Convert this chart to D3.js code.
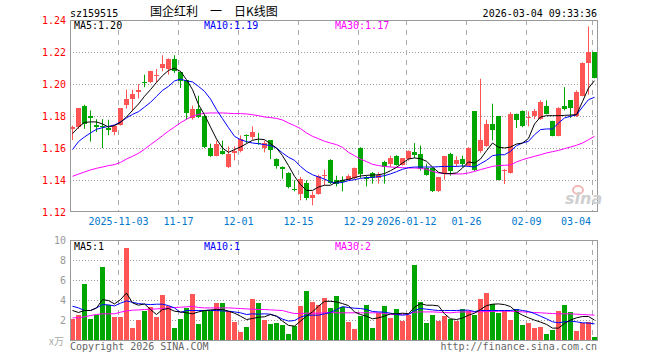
<!DOCTYPE html>
<html>
<head>
<meta charset="utf-8">
<script src="https://cdn.jsdelivr.net/npm/d3@7"></script>
<style>
  body { margin: 0; background: #fff; }
  svg { display: block; }
  text { font-family: "DejaVu Sans Mono", monospace; font-size: 10px; }
</style>
</head>
<body>
<svg id="chart"></svg>
<script>
// daily candles, 2025-10-22 .. 2026-03-04 (88 trading days)
const opens = [1.172,1.173,1.1865,1.18,1.1746,1.1735,1.1722,1.17,1.1745,1.1867,1.1908,1.1948,1.2013,1.201,1.2048,1.2098,1.2096,1.2158,1.2077,1.2023,1.1788,1.1844,
  1.18,1.16,1.1552,1.1583,1.1481,1.1569,1.1579,1.1683,1.1667,1.1629,1.16,1.1648,1.1533,1.1483,1.1446,1.1346,1.1315,1.1381,1.1285,1.1315,1.1429,1.1527,
  1.14,1.14,1.1402,1.1415,1.1602,1.1419,1.1446,1.1415,1.1515,1.1502,1.1552,1.1496,1.1531,1.1577,1.1565,1.1475,1.1475,1.1333,1.144,1.1565,1.1502,1.1533,
  1.149,1.1829,1.1579,1.1615,1.1752,1.18,1.1454,1.1444,1.1813,1.1833,1.179,1.1798,1.1781,1.1865,1.1767,1.1677,1.1865,1.1898,1.1798,1.1927,1.2131,1.2198];
const highs = [1.174,1.185,1.187,1.1835,1.178,1.178,1.1777,1.1745,1.185,1.1965,1.1965,1.2,1.2058,1.2083,1.2094,1.218,1.216,1.218,1.208,1.2025,1.1865,1.1927,
  1.1805,1.1627,1.1646,1.1646,1.161,1.161,1.1679,1.1685,1.1735,1.1694,1.1646,1.165,1.1535,1.1485,1.1448,1.1398,1.1419,1.1398,1.1329,1.1433,1.1465,1.153,
  1.1427,1.1423,1.1435,1.1478,1.1605,1.1427,1.145,1.1448,1.152,1.1552,1.1555,1.1535,1.1585,1.1631,1.1615,1.1502,1.1475,1.142,1.155,1.157,1.1548,1.1552,
  1.1605,1.183,1.2033,1.1777,1.1877,1.18,1.1469,1.1825,1.1815,1.1835,1.1829,1.1844,1.1898,1.1898,1.177,1.1855,1.1981,1.19,1.196,1.2135,1.236,1.22];
const lows = [1.165,1.172,1.172,1.164,1.17,1.16,1.168,1.168,1.174,1.1846,1.183,1.191,1.198,1.2005,1.201,1.208,1.2058,1.207,1.1975,1.1777,1.1777,1.1788,
  1.16,1.1544,1.1548,1.1558,1.1475,1.1523,1.1573,1.163,1.1652,1.162,1.1573,1.1531,1.1471,1.1408,1.1348,1.1329,1.1273,1.1273,1.1242,1.1308,1.1367,1.1375,
  1.136,1.1329,1.14,1.1406,1.1413,1.136,1.1377,1.1377,1.1377,1.1481,1.149,1.149,1.1521,1.1537,1.1458,1.1427,1.1325,1.1325,1.1402,1.1427,1.1481,1.1481,
  1.1488,1.1454,1.157,1.1606,1.1648,1.1398,1.1375,1.144,1.1725,1.173,1.1735,1.1781,1.1777,1.181,1.1673,1.1673,1.1835,1.1788,1.1794,1.1923,1.1933,1.2035];
const closes = [1.173,1.185,1.175,1.179,1.173,1.173,1.1715,1.174,1.185,1.1908,1.1938,1.1965,1.2008,1.2083,1.2058,1.2127,1.2158,1.2083,1.202,1.182,1.1844,1.1794,
  1.1604,1.1552,1.1625,1.1565,1.1565,1.1583,1.1656,1.1677,1.1698,1.1625,1.1631,1.1585,1.1485,1.1469,1.1354,1.1335,1.1406,1.1285,1.1304,1.1427,1.1433,1.1381,
  1.1377,1.1385,1.1427,1.1477,1.1435,1.1408,1.141,1.1433,1.1481,1.1535,1.1496,1.1535,1.1581,1.1554,1.1469,1.1433,1.1333,1.1417,1.1548,1.1454,1.1527,1.15,
  1.16,1.146,1.1652,1.1752,1.1715,1.14,1.1462,1.1815,1.1777,1.1735,1.1794,1.1829,1.1885,1.1815,1.1677,1.185,1.1844,1.185,1.1948,1.2131,1.2198,1.2037];

const ma5 = [1.169,1.173,1.176,1.1763,1.1763,1.175,1.1731,1.174,1.176,1.1794,1.1835,1.1875,1.1923,1.1965,1.201,1.2052,1.2085,1.2098,1.2079,1.2027,1.1965,1.1871,
  1.1808,1.1731,1.1656,1.16,1.1573,1.159,1.1606,1.1627,1.1648,1.1656,1.1652,1.1627,1.16,1.1552,1.149,1.1423,1.1371,1.1335,1.1335,1.1356,1.1367,1.1367,
  1.1388,1.1398,1.1404,1.1415,1.1425,1.1429,1.1431,1.1433,1.144,1.1458,1.1479,1.1506,1.1531,1.1538,1.1533,1.1517,1.1481,1.1448,1.144,1.144,1.1444,1.1475,
  1.1513,1.1506,1.1531,1.1583,1.1631,1.1605,1.16,1.1606,1.1625,1.1631,1.166,1.175,1.1794,1.1802,1.1802,1.1802,1.1804,1.1806,1.1808,1.189,1.1975,1.2021];
const ma10 = [1.159,1.164,1.1669,1.1694,1.1717,1.1727,1.1735,1.1744,1.1763,1.1788,1.181,1.1827,1.1856,1.1885,1.1923,1.196,1.1985,1.2019,1.2031,1.2019,1.2013,1.1985,
  1.1954,1.1906,1.184,1.1783,1.1727,1.1673,1.1652,1.164,1.1631,1.1627,1.1621,1.1615,1.16,1.1569,1.1542,1.1523,1.1485,1.1454,1.1433,1.1419,1.1406,1.1388,
  1.1381,1.1385,1.1396,1.1402,1.141,1.1415,1.1417,1.1421,1.1427,1.1438,1.1452,1.1467,1.1477,1.1481,1.1481,1.1481,1.1481,1.1483,1.1485,1.1485,1.1485,1.1488,
  1.1485,1.1481,1.1502,1.1523,1.1552,1.1558,1.1558,1.1579,1.1615,1.1631,1.1642,1.1683,1.1715,1.1719,1.1719,1.1756,1.1788,1.1798,1.1808,1.1856,1.1902,1.1917];
const ma30 = [1.1423,1.1437,1.145,1.1463,1.1473,1.1481,1.149,1.1496,1.151,1.1531,1.1548,1.1567,1.1592,1.1621,1.1648,1.1677,1.1706,1.1731,1.1758,1.178,1.1798,1.181,
  1.1817,1.1819,1.1819,1.1819,1.1817,1.1815,1.1815,1.1813,1.1808,1.1802,1.1794,1.179,1.1785,1.1775,1.1756,1.174,1.1721,1.1694,1.1673,1.1658,1.1642,1.1631,
  1.1621,1.1604,1.1573,1.1552,1.1531,1.1515,1.1498,1.149,1.1485,1.1481,1.1479,1.1477,1.1475,1.1475,1.1473,1.1467,1.1454,1.1444,1.144,1.1438,1.1438,1.1438,
  1.1444,1.1454,1.1465,1.1475,1.1485,1.149,1.1492,1.1494,1.1513,1.1527,1.1538,1.1548,1.1558,1.1569,1.1577,1.1585,1.1596,1.1606,1.1617,1.1631,1.1652,1.1673];

// volume in 万 lots
const volumes = [2.12,2.48,5.63,2.15,2.48,7.32,3.54,2.35,2.35,9.2,1.16,2.05,2.95,3.34,2.35,4.54,3.44,1.16,2.15,3.2,4.64,1.56,
  3.05,2.95,3.74,3.74,2.95,1.79,0.79,1.26,4.14,3.74,2.05,1.59,1.66,1.49,0.56,1.36,3.44,4.93,3.84,3.54,4.24,3.25,
  4.44,3.34,1.85,1.06,2.45,3.54,1.16,2.75,3.44,2.25,3.15,1.95,2.55,7.52,3.84,1.66,2.55,1.95,2.45,2.15,1.95,3.15,
  2.95,2.55,4.14,4.74,3.64,2.75,2.95,2.05,3.15,1.46,1.75,1.16,1.26,0.56,0.96,2.95,3.54,2.85,0.86,1.75,1.85,0.26];
const vma5 = [2.95,2.75,2.95,2.95,3.2,4.04,3.94,3.61,4.04,4.7,3.71,3.48,3.61,3.05,2.55,3.05,3.15,2.88,2.81,2.72,2.62,2.81,
  2.95,3.01,3.05,3.05,2.88,2.68,2.38,2.05,2.15,2.28,2.32,2.55,2.38,1.89,1.46,1.39,1.89,2.38,2.81,3.38,3.87,3.87,
  3.81,3.64,3.44,2.81,2.55,2.38,2.12,2.22,2.38,2.62,2.62,2.68,2.62,3.28,3.64,3.48,3.48,3.41,2.62,2.12,2.05,2.19,
  2.48,2.68,3.05,3.44,3.58,3.61,3.54,3.34,2.81,2.48,2.22,1.99,1.79,1.56,1.19,1.19,1.66,1.99,2.22,2.35,2.35,1.99];
const vma10 = [3.38,3.21,2.95,2.95,3.21,3.54,3.51,3.41,3.68,3.91,3.77,3.64,3.58,3.54,3.58,3.58,3.44,3.21,2.75,2.95,2.95,2.95,
  2.95,2.95,2.95,2.91,2.88,2.81,2.72,2.55,2.62,2.58,2.62,2.58,2.38,2.09,1.89,1.95,2.28,2.48,2.48,2.48,2.62,2.75,
  3.05,3.34,3.25,3.18,3.15,3.05,2.85,2.81,2.78,2.68,2.55,2.48,2.55,2.95,3.15,3.08,3.01,2.95,2.95,2.95,2.95,2.98,
  2.98,2.85,2.95,2.95,2.95,2.95,2.95,2.95,3.05,2.95,2.85,2.65,2.38,2.12,1.82,1.72,1.82,1.89,1.82,1.72,1.69,1.62];
const vma30 = [2.22,2.22,2.32,2.45,2.55,2.62,2.62,2.62,2.78,2.91,2.98,3.01,3.05,3.08,3.11,3.15,3.21,3.25,3.28,3.31,3.38,3.25,
  3.21,3.21,3.21,3.21,3.21,3.18,3.15,3.11,3.08,3.05,3.05,3.01,2.98,2.95,2.78,2.65,2.65,2.68,2.68,2.68,2.72,2.75,
  2.72,2.72,2.72,2.72,2.72,2.72,2.72,2.72,2.65,2.55,2.55,2.58,2.62,2.78,2.81,2.81,2.81,2.78,2.75,2.72,2.78,2.81,
  2.81,2.81,2.81,2.85,2.85,2.88,2.88,2.88,2.85,2.81,2.78,2.75,2.72,2.68,2.65,2.62,2.62,2.62,2.58,2.55,2.52,2.48];

const tickIdx = [8, 18, 28, 38, 48, 56, 66, 76, 87];
const tickLabels = ["2025-11-03","11-17","12-01","12-15","12-29","2026-01-12","01-26","02-09","03-04"];
const priceTicks = [1.12, 1.14, 1.16, 1.18, 1.20, 1.22, 1.24];
const volTicks = [2, 4, 6, 8, 10];

const RED = "#ff5555", GREEN = "#00a600";
const left = 70, right = 597;

const svg = d3.select("#chart").attr("width", 660).attr("height", 360);

const x = d3.scaleLinear().domain([0, 88]).range([70, 598]);   // slot start of each day
const y = d3.scaleLinear().domain([1.12, 1.24]).range([212, 20]);
const yv = d3.scaleLinear().domain([0, 10]).range([340, 240]);

const up = i => closes[i] >= opens[i];
const px = v => Math.round(v) + 0.5;

// ---- header
svg.append("text").attr("x", 70).attr("y", 17).text("sz159515");
svg.append("text").attr("x", 150).attr("y", 16)
  .style("font-family", '"Noto Sans CJK SC", sans-serif').style("font-size", "12px")
  .text("国企红利\u3000一\u3000日K线图");
svg.append("text").attr("x", 597).attr("y", 17).attr("text-anchor", "end").text("2026-03-04 09:33:36");

// ---- panel grids
function grid(top, bottom, yScale, ticks) {
  svg.append("g").selectAll("line").data(ticks).join("line")
    .attr("x1", left).attr("x2", right)
    .attr("y1", d => px(yScale(d))).attr("y2", d => px(yScale(d)))
    .attr("stroke", "#999").attr("stroke-dasharray", "1,2");
  svg.append("g").selectAll("line").data(tickIdx).join("line")
    .attr("x1", d => px(x(d))).attr("x2", d => px(x(d)))
    .attr("y1", top).attr("y2", bottom)
    .attr("stroke", "#aaa").attr("stroke-dasharray", "5,5");
}
grid(20, 212, y, priceTicks.slice(1, -1));
grid(240, 340, yv, volTicks.slice(0, -1));

// ---- candles
const candles = svg.append("g");
candles.selectAll("line").data(opens).join("line")
  .attr("x1", (d, i) => x(i) + 2.5).attr("x2", (d, i) => x(i) + 2.5)
  .attr("y1", (d, i) => y(highs[i])).attr("y2", (d, i) => y(lows[i]))
  .attr("stroke", (d, i) => up(i) ? RED : GREEN);
candles.selectAll("rect").data(opens).join("rect")
  .attr("x", (d, i) => x(i)).attr("width", 5)
  .attr("y", (d, i) => y(Math.max(opens[i], closes[i])))
  .attr("height", (d, i) => Math.max(1, Math.abs(y(opens[i]) - y(closes[i]))))
  .attr("fill", (d, i) => up(i) ? RED : GREEN)
  .attr("shape-rendering", "crispEdges");

// ---- volume bars
svg.append("g").selectAll("rect").data(volumes).join("rect")
  .attr("x", (d, i) => x(i)).attr("width", 5)
  .attr("y", d => yv(d)).attr("height", d => yv(0) - yv(d))
  .attr("fill", (d, i) => up(i) ? RED : GREEN)
  .attr("shape-rendering", "crispEdges");

// ---- moving averages
function maLine(vals, scale, color) {
  const line = d3.line().x((d, i) => x(i) + 2.5).y(d => scale(d));
  svg.append("path").datum(vals).attr("d", line)
    .attr("fill", "none").attr("stroke", color).attr("stroke-width", 1);
}
maLine(ma30, y, "#ff00ff");
maLine(ma10, y, "#0000ff");
maLine(ma5, y, "#000");
maLine(vma30, yv, "#ff00ff");
maLine(vma10, yv, "#0000ff");
maLine(vma5, yv, "#000");

// ---- frames
svg.append("rect").attr("x", 70.5).attr("y", 20.5).attr("width", 527).attr("height", 191)
  .attr("fill", "none").attr("stroke", "#999");
svg.append("rect").attr("x", 70.5).attr("y", 240.5).attr("width", 527).attr("height", 100)
  .attr("fill", "none").attr("stroke", "#999");

// ---- axes labels
const yAxis = d3.axisLeft(y).tickValues(priceTicks).tickFormat(d3.format(".2f")).tickSize(0).tickPadding(4);
const ga = svg.append("g").attr("transform", `translate(${left},0)`).call(yAxis);
ga.select(".domain").remove();
ga.selectAll("text").attr("fill", "#f00").style("font-size", "10px").style("font-family", '"DejaVu Sans Mono", monospace');

const vAxis = d3.axisLeft(yv).tickValues(volTicks).tickFormat(d3.format("d")).tickSize(0).tickPadding(4);
const gv = svg.append("g").attr("transform", `translate(${left},0)`).call(vAxis);
gv.select(".domain").remove();
gv.selectAll("text").attr("fill", "#999").style("font-size", "10px").style("font-family", '"DejaVu Sans Mono", monospace');
svg.append("text").attr("x", 49).attr("y", 345).attr("fill", "#aaa")
  .style("font-family", '"Noto Sans CJK SC", sans-serif').style("font-size", "10px").text("x万");

svg.append("g").selectAll("text").data(tickIdx).join("text")
  .attr("x", (d, i) => i === tickIdx.length - 1 ? 591 : px(x(d)))
  .attr("y", 225)
  .attr("text-anchor", (d, i) => i === tickIdx.length - 1 ? "end" : "middle")
  .attr("fill", "#0077cc")
  .text((d, i) => tickLabels[i]);

// ---- legends
function legend(yPos, a, b, c) {
  svg.append("text").attr("x", 74).attr("y", yPos).attr("fill", "#000").text(a);
  svg.append("text").attr("x", 204).attr("y", yPos).attr("fill", "#0000ff").text(b);
  svg.append("text").attr("x", 335).attr("y", yPos).attr("fill", "#ff00ff").text(c);
}
legend(29, "MA5:1.20", "MA10:1.19", "MA30:1.17");
legend(250, "MA5:1", "MA10:1", "MA30:2");

// ---- watermark + footer
svg.append("ellipse").attr("cx", 578).attr("cy", 190).attr("rx", 5).attr("ry", 4)
  .attr("fill", "none").attr("stroke", "#f2b8b8").attr("stroke-width", 2);
svg.append("text").attr("x", 565).attr("y", 204).attr("fill", "#cfcfcf")
  .style("font-family", '"DejaVu Sans", sans-serif').style("font-size", "16px")
  .style("font-style", "italic").style("font-weight", "bold").text("sina");

svg.append("text").attr("x", 70).attr("y", 349.5).attr("fill", "#666").text("Copyright 2026 SINA.COM");
svg.append("text").attr("x", 597).attr("y", 349.5).attr("fill", "#666").attr("text-anchor", "end").text("http://finance.sina.com.cn");
</script>
</body>
</html>
